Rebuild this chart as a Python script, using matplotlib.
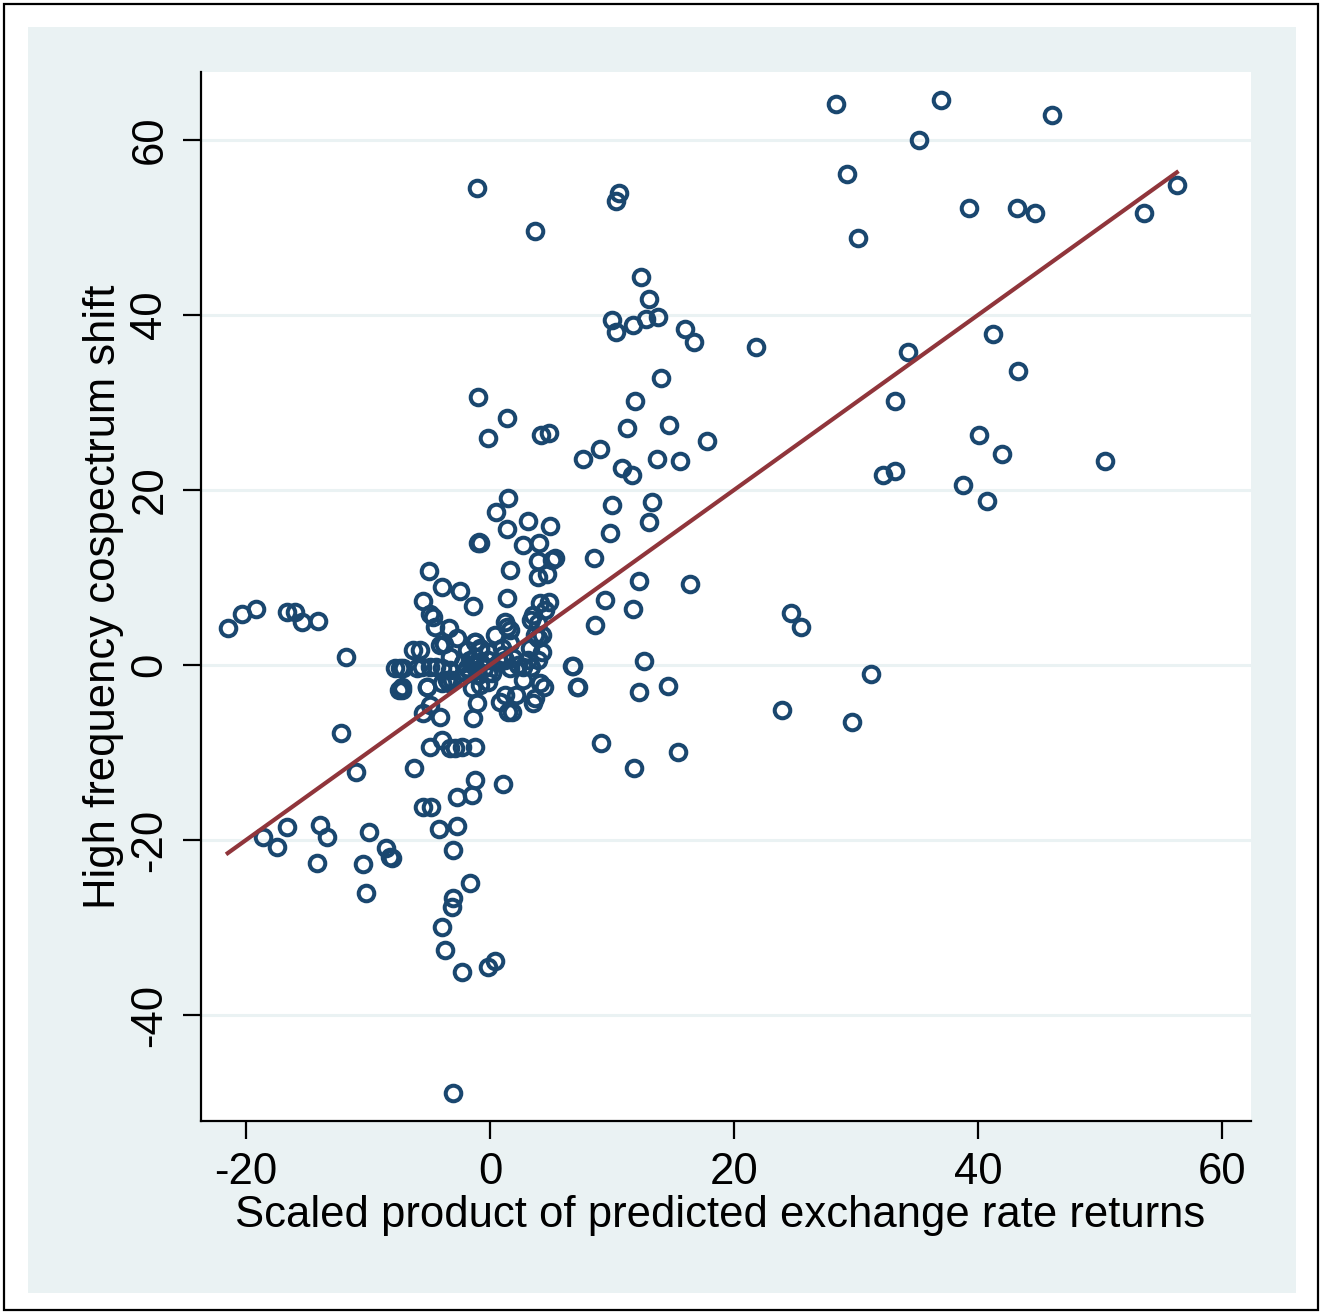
import matplotlib
matplotlib.use("Agg")
import matplotlib.pyplot as plt
from matplotlib.patches import Rectangle
import numpy as np

# scaled product of predicted returns (x) vs high frequency cospectrum shift (y)
pred_x = [
    28.4, 37.0, 46.1, 35.2, 29.3, -1.1, 10.6, 10.3, 56.3, 39.3, 43.2, 44.7, 53.6, 30.2, 3.7,
    12.4, 13.0, 10.0, 11.7, 12.8, 13.8, 10.3, 16.0, 16.7, 21.8, 41.2, 34.3, 43.3, 14.0, 11.9,
    33.2, -1.0, 1.4, -0.2, 4.2, 4.8, 11.2, 14.7, 17.8, 40.1, 42.0, 7.6, 9.0, 10.8, 11.6,
    13.7, 15.6, 50.4, 32.2, 33.2, 38.8, 40.7, 13.3, 10.0, 9.8, 13.0, 1.5,
    0.5, 3.1, 4.9, 1.4, -0.9, -0.8, -1.0, 2.7, 4.0, 3.9, 5.1, 5.3, -5.0, 1.6, 3.9, 4.7,
    -3.9, -2.5, -1.4, -5.5, -4.9, -4.7, -4.5, -3.4, -2.7, -4.1, -3.8, -1.2, -6.3, -5.7, -3.3,
    -1.9, -0.8, -7.8, -7.4, -7.1, -6.0, -5.6, -4.9, -4.4, -3.9, -7.2, -5.2, -3.5, -3.1,
    1.4, 4.1, 4.8, 3.5, 3.4, 3.9, 1.2, 1.4, 1.6, 0.4, 1.6, 3.7, 3.9, 4.3, 3.3,
    1.0, 1.1, 1.9, 2.3, 2.7, 3.1, 3.4, 3.9, 6.7, -0.2, 0.2, 4.1, 2.7, 4.3, 4.5,
    -2.2, -1.9, -1.6, -1.4, -1.1, -0.8, -0.5, -0.2, -1.6, -1.0, -2.1, -3.3, -3.9, -3.4,
    -0.8, -0.2, -1.2, -0.8, -1.2, -0.2, 0.7, 1.2, 1.6, -1.5, -1.1,
    -7.2, -5.2, 0.8, 1.2, 2.1, 1.5, 1.8, 3.5, 3.7, 4.4, 7.1, -5.5, -4.9, -4.1, -1.4,
    -4.9, -3.9, -3.3, -2.9, -2.3, -1.2, -6.2, -1.2, 1.1, -2.7, -1.5,
    -5.5, -4.8, -4.2, -2.7, -3.0, -1.6, -3.0, -3.1, -3.9, -3.7, -2.3, -0.2, 0.4, -3.0,
    8.5, 12.2, 16.4, 9.4, 11.7, 8.6, 12.6, 6.8, 7.2, 12.2, 14.6, 9.1, 15.4, 11.8,
    -21.5, -20.3, -19.2, -16.6, -16.0, -15.4, -14.1, -11.8, -12.2, -11.0, -18.6, -17.5,
    -16.6, -13.9, -13.4, -14.2, -10.4, -9.9, -10.2, -8.5, -8.2, -8.0, -7.5,
    24.7, 25.5, 31.2, 23.9, 29.7,
]
cospec_y = [
    64.1, 64.6, 62.9, 60.0, 56.1, 54.5, 53.9, 53.0, 54.9, 52.2, 52.2, 51.7, 51.7, 48.8, 49.6,
    44.3, 41.8, 39.4, 38.9, 39.5, 39.8, 38.1, 38.4, 36.9, 36.3, 37.8, 35.8, 33.6, 32.8, 30.2,
    30.2, 30.6, 28.2, 25.9, 26.3, 26.5, 27.1, 27.4, 25.6, 26.3, 24.1, 23.5, 24.7, 22.5, 21.7,
    23.5, 23.3, 23.3, 21.7, 22.2, 20.6, 18.7, 18.6, 18.3, 15.1, 16.3, 19.1,
    17.5, 16.5, 15.9, 15.5, 14.1, 14.0, 13.9, 13.7, 13.9, 11.9, 12.0, 12.2, 10.7, 10.9, 10.1, 10.4,
    8.9, 8.5, 6.7, 7.3, 5.8, 5.5, 4.3, 4.2, 3.1, 2.3, 2.4, 2.6, 1.7, 1.7, 0.9,
    1.7, 1.7, -0.3, -0.3, -0.3, -0.3, -0.2, -0.2, -0.2, -0.3, -2.5, -2.5, -1.7, -1.7,
    7.7, 7.1, 7.2, 5.7, 5.1, 4.8, 4.9, 4.3, 4.0, 3.4, 2.5, 3.4, 3.1, 1.5, 1.9,
    1.9, 1.1, 0.8, 0.0, -0.2, 0.6, -0.2, 0.6, -0.1, -0.9, -0.9, -2.1, -1.7, 3.4, 6.3,
    0.2, -0.3, 0.6, 0.0, -0.6, 0.3, -0.3, 0.6, -0.8, -1.1, -0.8, -0.6, -2.1, -2.1,
    -2.3, -1.9, 2.6, 1.9, 0.9, 1.5, 0.3, 0.6, -0.3, -2.6, -4.3,
    -2.9, -2.5, -4.2, -3.4, -3.4, -5.4, -5.4, -4.3, -3.8, -2.5, -2.5, -5.5, -4.6, -5.9, -6.1,
    -9.4, -8.6, -9.5, -9.5, -9.4, -9.4, -11.8, -13.1, -13.6, -15.1, -14.9,
    -16.2, -16.2, -18.7, -18.4, -21.1, -24.9, -26.6, -27.7, -29.9, -32.6, -35.1, -34.5, -33.8, -48.9,
    12.2, 9.6, 9.3, 7.4, 6.4, 4.6, 0.5, -0.1, -2.5, -3.1, -2.4, -8.9, -9.9, -11.8,
    4.2, 5.8, 6.4, 6.1, 6.1, 4.9, 5.0, 0.9, -7.8, -12.2, -19.7, -20.8,
    -18.5, -18.3, -19.7, -22.6, -22.7, -19.1, -26.1, -20.9, -21.9, -22.1, -2.9,
    5.9, 4.3, -1.0, -5.1, -6.5,
]

# fitted values line
fit_slope = 1.0
fit_intercept = 0.0

x_ticks = [-20, 0, 20, 40, 60]
y_ticks = [-40, -20, 0, 20, 40, 60]

navy = "#1a476f"
maroon = "#90353b"
bg = "#eaf2f3"

plt.rcParams["font.family"] = ["Liberation Sans", "DejaVu Sans"]
plt.rcParams["axes.unicode_minus"] = False

W, H = 1328, 1313
fig = plt.figure(figsize=(W / 100, H / 100), dpi=100)
fig.patch.set_facecolor("white")

# outer frame and shaded graph region, kept behind the axes
fig.patches.append(Rectangle((4 / W, 1 - 1310 / H), 1314 / W, 1306 / H, transform=fig.transFigure,
                             facecolor="white", edgecolor="black", lw=1.6, zorder=-2))
fig.patches.append(Rectangle((28 / W, 1 - 1293 / H), 1268 / W, 1266 / H, transform=fig.transFigure,
                             facecolor=bg, edgecolor="none", zorder=-1))

ax = fig.add_axes([201 / W, 1 - 1121 / H, 1050 / W, 1049 / H])
ax.set_facecolor("white")

x = np.array(pred_x)
y = np.array(cospec_y)
ax.plot(x, y, linestyle="none", marker="o", ms=11.2, mfc="none", mec=navy, mew=2.9, zorder=3)

xs = np.array([x.min(), x.max()])
ax.plot(xs, fit_intercept + fit_slope * xs, color=maroon, lw=3.0, zorder=4)

ax.set_xlim(-23.69, 62.38)
ax.set_ylim(-52.11, 67.77)
ax.set_xticks(x_ticks)
ax.set_yticks(y_ticks)
ax.set_yticklabels([str(v) for v in y_ticks], rotation=90, va="center")

for v in y_ticks:
    ax.axhline(v, color=bg, lw=2.2, zorder=1)

for s in ["top", "right"]:
    ax.spines[s].set_visible(False)
for s in ["left", "bottom"]:
    ax.spines[s].set_linewidth(1.6)
    ax.spines[s].set_color("black")

ax.tick_params(axis="both", direction="out", length=13, width=1.6, labelsize=31.4, pad=9)

ax.set_xlabel("Scaled product of predicted exchange rate returns", fontsize=31.4, labelpad=2, x=0.494)
ax.set_ylabel("High frequency cospectrum shift", fontsize=31.4, labelpad=4)

fig.savefig("out.png", dpi=100)
